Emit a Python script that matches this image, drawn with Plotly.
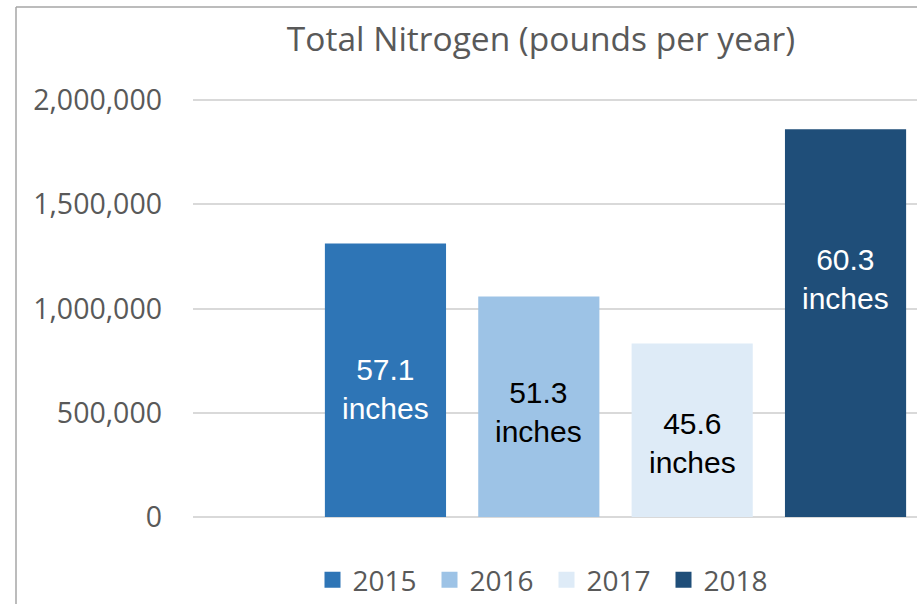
import plotly.graph_objects as go

# ---- data ----
years = ["2015", "2016", "2017", "2018"]
nitrogen_lbs = [1312000, 1058000, 832000, 1860000]
rainfall_in = [57.1, 51.3, 45.6, 60.3]
y_ticks = [0, 500000, 1000000, 1500000, 2000000]

# ---- style ----
bar_colors = ["#2E75B6", "#9DC3E6", "#DEEBF7", "#1F4E79"]
label_colors = ["white", "black", "black", "white"]
label_shift_px = [-9, -5, -13, 44]

W, H = 917, 604
L, R, T, B = 193, 0, 99, 87
y_top = 2005000
plot_w = W - L - R
plot_h = H - T - B

fig = go.Figure()
fig.add_trace(go.Bar(
    x=years, y=nitrogen_lbs, width=0.79,
    marker=dict(color=bar_colors, line=dict(width=0)),
    showlegend=False, hoverinfo="x+y",
))
for yr, c in zip(years, bar_colors):
    fig.add_trace(go.Scatter(
        x=[None], y=[None], mode="markers", name=yr,
        marker=dict(symbol="square", size=16, color=c),
    ))

annotations = []
for i, (v, rain, fc, dy) in enumerate(zip(nitrogen_lbs, rainfall_in, label_colors, label_shift_px)):
    annotations.append(dict(
        xref="x", yref="y", x=i, y=v / 2,
        text=f"{rain}<br>inches", showarrow=False, yshift=dy,
        font=dict(family="Liberation Sans", size=30, color=fc),
        xanchor="center", yanchor="middle",
    ))

# chart border (top and left visible in the crop)
px_x = lambda p: (p - L) / plot_w
px_y = lambda p: (H - B - p) / plot_h
border = dict(color="#a6a6a6", width=1.5)
shapes = [
    dict(type="line", xref="paper", yref="paper",
         x0=px_x(16), x1=px_x(W + 5), y0=px_y(7), y1=px_y(7), line=border),
    dict(type="line", xref="paper", yref="paper",
         x0=px_x(16), x1=px_x(16), y0=px_y(7), y1=px_y(H + 5), line=border),
]

fig.update_layout(
    width=W, height=H,
    margin=dict(l=L, r=R, t=T, b=B, pad=0, autoexpand=False),
    paper_bgcolor="white", plot_bgcolor="white",
    font=dict(family="Open Sans", color="#595959"),
    annotations=annotations,
    shapes=shapes,
    title=dict(text="Total Nitrogen (pounds per year)",
               x=px_x(541), xref="paper", xanchor="center",
               y=1 - 39 / H, yref="container", yanchor="middle",
               font=dict(family="Open Sans", size=33.5, color="#595959")),
    showlegend=True,
    legend=dict(orientation="h", x=px_x(546.5), xanchor="center",
                y=px_y(580), yanchor="middle",
                font=dict(family="Open Sans", size=28, color="#595959"),
                itemwidth=30, entrywidth=72, traceorder="normal",
                bgcolor="rgba(0,0,0,0)"),
    xaxis=dict(type="category", categoryorder="array", categoryarray=years,
               range=[-1.255, 3.466], showticklabels=False, showgrid=False,
               zeroline=False, showline=False, ticks="", automargin=False),
    yaxis=dict(range=[0, y_top], tickvals=y_ticks, tickformat=",d",
               showgrid=True, gridcolor="#d9d9d9", gridwidth=2,
               zeroline=True, zerolinecolor="#d9d9d9", zerolinewidth=2,
               showline=False, ticks="", ticklabelstandoff=30, automargin=False,
               tickfont=dict(family="Open Sans", size=28.5, color="#595959")),
)

fig.write_html("out.html",
               config={"displayModeBar": False},
               post_script="document.body.style.margin='0';document.body.style.overflow='hidden';")
